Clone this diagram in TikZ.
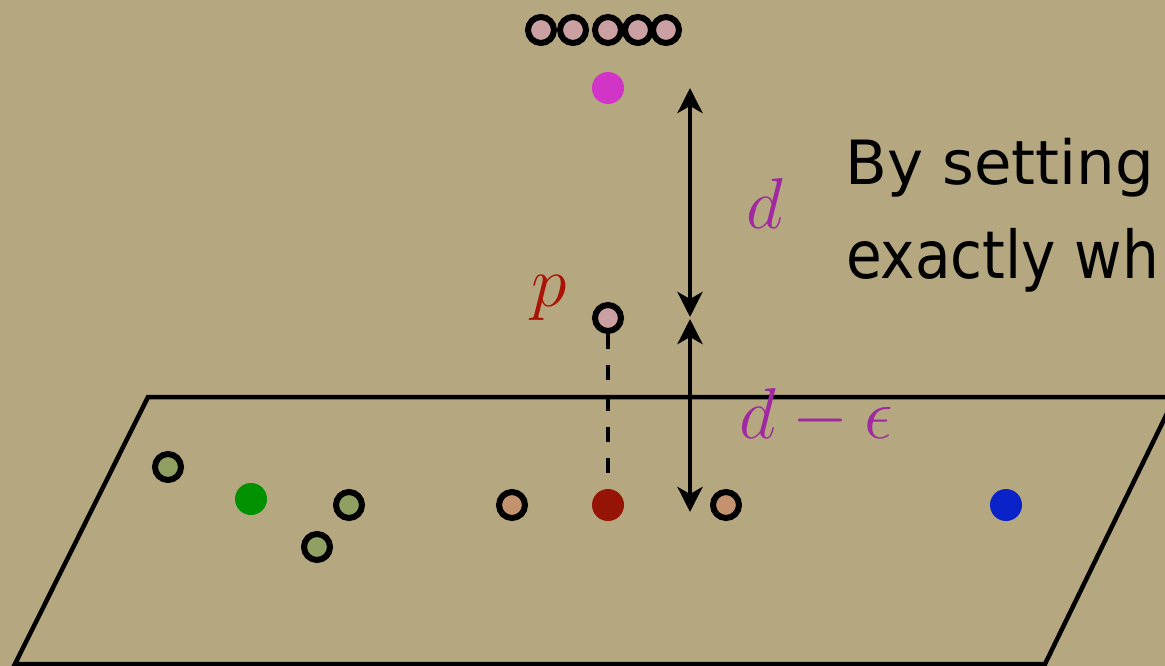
\RequirePackage{fix-cm}
\documentclass[tikz,border=0pt]{standalone}
\usepackage{fontspec}
\newfontfamily\slidefont{DejaVu Sans}
\newfontfamily\slidefontnarrow[FakeStretch=0.88]{DejaVu Sans}
\usetikzlibrary{arrows.meta}
\definecolor{bg}{RGB}{181,167,127}
\definecolor{pinkfill}{RGB}{203,160,163}
\definecolor{olivefill}{RGB}{143,160,98}
\definecolor{brownfill}{RGB}{196,146,110}
\definecolor{magentadot}{RGB}{210,52,200}
\definecolor{reddot}{RGB}{150,20,5}
\definecolor{greendot}{RGB}{0,145,0}
\definecolor{bluedot}{RGB}{10,35,200}
\definecolor{labpurple}{RGB}{160,40,160}
\definecolor{labred}{RGB}{170,20,5}
\tikzset{
  ring/.style={circle, draw=black, line width=6pt, minimum size=26pt, inner sep=0pt},
  dot/.style={circle, minimum size=32pt, inner sep=0pt},
  plane/.style={line width=4.5pt, line join=miter},
  dimarrow/.style={line width=4.5pt, {Stealth[length=25pt,width=25pt,inset=7pt]}-{Stealth[length=25pt,width=25pt,inset=7pt]}},
  dashline/.style={line width=4.5pt, dash pattern=on 15pt off 16pt},
  mathlab/.style={font=\fontsize{72}{80}\selectfont, inner sep=0pt, anchor=base},
  slidetext/.style={inner sep=0pt, anchor=base west}
}
\begin{document}
\begin{tikzpicture}[x=1pt,y=-1pt]
\fill[bg] (0,0) rectangle (1165,666);
\useasboundingbox (0,0) rectangle (1165,666);
\clip (0,0) rectangle (1165,666);

% plane
\draw[plane] (148,397) -- (1175,397) -- (1045,664) -- (15,664) -- cycle;

% slide text
\node[slidetext, font=\slidefont\fontsize{61}{70}\selectfont] (t1) at (845,185) {By setting};
\node[slidetext, font=\slidefontnarrow\fontsize{66}{74}\selectfont] (t2) at (846,278) {exactly wh};

% top row of rings
\node[ring, fill=pinkfill] (k1) at (541,30) {};
\node[ring, fill=pinkfill] (k2) at (573,30) {};
\node[ring, fill=pinkfill] (k3) at (608,30) {};
\node[ring, fill=pinkfill] (k4) at (638,30) {};
\node[ring, fill=pinkfill] (k5) at (666,30) {};

% magenta dot
\node[dot, fill=magentadot] (m) at (608,88) {};

% p point and projection
\node[ring, fill=pinkfill] (pp) at (608,318) {};
\draw[dashline] (pp) -- (608,505) coordinate (rc);
\node[dot, fill=reddot] (r) at (rc) {};

% points in the plane
\node[ring, fill=olivefill] (g1) at (168,467) {};
\node[dot, fill=greendot] (gd) at (251,499) {};
\node[ring, fill=olivefill] (g2) at (349,505) {};
\node[ring, fill=olivefill] (g3) at (317,547) {};
\node[ring, fill=brownfill] (b1) at (512,505) {};
\node[ring, fill=brownfill] (b2) at (726,505) {};
\node[dot, fill=bluedot] (bl) at (1006,505) {};

% dimension arrows
\coordinate (atop) at (690,88);
\coordinate (amid1) at (690,317);
\coordinate (amid2) at (690,319);
\coordinate (abot) at (690,512);
\draw[dimarrow] (atop) -- (amid1);
\draw[dimarrow] (amid2) -- (abot);

% labels
\node[mathlab, text=labpurple] (ld) at (765,228) {$d$};
\node[mathlab, text=labred] (lp) at (549,306) {$p$};
\node[mathlab, text=labpurple] (lde) at (816,438) {$d-\epsilon$};
\end{tikzpicture}
\end{document}
